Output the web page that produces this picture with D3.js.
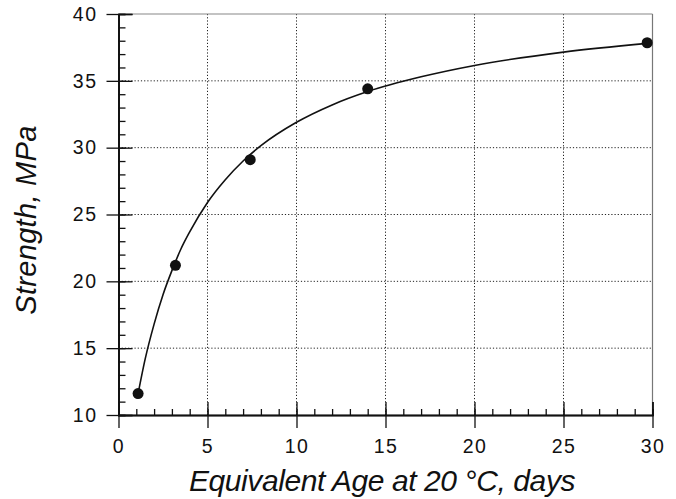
<!DOCTYPE html>
<html><head><meta charset="utf-8">
<script src="https://cdn.jsdelivr.net/npm/d3@7"></script>
<style>html,body{margin:0;padding:0;background:#fff;}svg{display:block;font-family:"Liberation Sans",Arial,sans-serif;}</style>
</head><body>
<script>
// Measured data points
const ageDays = [1.1, 3.2, 7.4, 14.0, 29.7];
const strengthMPa = [11.6, 21.2, 29.1, 34.4, 37.85];
// Fitted curve, values
const curveAge = [1.05, 1.5, 2, 2.5, 3, 3.5, 4, 5, 6, 7, 8, 10, 12, 14, 17, 20, 25, 29.7];
const curveStrength = [11.25, 14.2, 16.8, 19.0, 20.8, 22.4, 23.7, 25.9, 27.6, 29.0, 30.15, 31.9, 33.2, 34.2, 35.3, 36.15, 37.15, 37.8];
const xTicks = [0, 5, 10, 15, 20, 25, 30];
const yTicks = [10, 15, 20, 25, 30, 35, 40];
const xTitle = "Equivalent Age at 20 °C, days";
const yTitle = "Strength, MPa";

const W = 676, H = 499;
const svg = d3.select("body").append("svg").attr("width", W).attr("height", H);
const x = d3.scaleLinear().domain([0, 30]).range([118.5, 652.5]);
const y = d3.scaleLinear().domain([10, 40]).range([415, 14]);
const X0 = x.range()[0], X1 = x.range()[1], Y0 = y.range()[0], Y1 = y.range()[1];

// gridlines
const grid = svg.append("g").attr("stroke", "#222").attr("stroke-width", 1).attr("stroke-dasharray", "1.2,2");
grid.selectAll(".gx").data(xTicks.filter(d => d > 0 && d < 30)).enter().append("line")
  .attr("x1", d => x(d)).attr("x2", d => x(d)).attr("y1", Y1).attr("y2", Y0);
grid.selectAll(".gy").data(yTicks.filter(d => d > 10 && d < 40)).enter().append("line")
  .attr("y1", d => y(d)).attr("y2", d => y(d)).attr("x1", X0).attr("x2", X1);

// frame top/right
svg.append("line").attr("x1", X0).attr("x2", X1).attr("y1", Y1).attr("y2", Y1).attr("stroke", "#888").attr("stroke-width", 1.2);
svg.append("line").attr("x1", X1).attr("x2", X1).attr("y1", Y1).attr("y2", Y0).attr("stroke", "#777").attr("stroke-width", 1.2);

// axes with d3
const xMinor = d3.range(0, 31, 1);
const yMinor = d3.range(10, 41, 1);
const gx = svg.append("g").attr("transform", `translate(0,${Y0})`);
gx.call(d3.axisBottom(x).tickValues(xMinor).tickSize(-6).tickFormat(""));
gx.append("g").call(d3.axisBottom(x).tickValues(xTicks).tickSizeInner(13).tickSizeOuter(0).tickPadding(11).tickFormat(d3.format("d")));
gx.append("g").call(d3.axisBottom(x).tickValues(xTicks).tickSize(-13).tickFormat(""));
const gy = svg.append("g").attr("transform", `translate(${X0},0)`);
gy.call(d3.axisLeft(y).tickValues(yMinor).tickSize(-7).tickFormat(""));
gy.append("g").call(d3.axisLeft(y).tickValues(yTicks).tickSizeInner(12).tickSizeOuter(0).tickPadding(9).tickFormat(d3.format("d")));
gy.append("g").call(d3.axisLeft(y).tickValues(yTicks).tickSize(-14).tickFormat(""));
svg.selectAll(".domain").attr("stroke", "#111").attr("stroke-width", 1.5);
svg.selectAll(".tick line").attr("stroke", "#111").attr("stroke-width", 1.3);
svg.selectAll(".tick text").attr("font-size", 19.5).attr("fill", "#111")
  .attr("font-family", "'Liberation Sans', Arial, sans-serif").attr("letter-spacing", 1.5);

// fitted curve
const line = d3.line().x((d, i) => x(curveAge[i])).y((d, i) => y(curveStrength[i])).curve(d3.curveMonotoneX);
svg.append("path").datum(curveAge).attr("d", line).attr("fill", "none").attr("stroke", "#111").attr("stroke-width", 1.6);

// points
svg.selectAll(".pt").data(ageDays).enter().append("circle")
  .attr("cx", d => x(d)).attr("cy", (d, i) => y(strengthMPa[i])).attr("r", 5.5).attr("fill", "#111");

// titles
svg.append("text").attr("x", 382).attr("y", 491).attr("text-anchor", "middle")
  .attr("font-size", 30).attr("letter-spacing", -0.4).attr("font-style", "italic").attr("fill", "#111").text(xTitle);
svg.append("text").attr("transform", "translate(36,220) rotate(-90)").attr("text-anchor", "middle")
  .attr("font-size", 29).attr("letter-spacing", 0.3).attr("font-style", "italic").attr("fill", "#111").text(yTitle);
</script>
</body></html>
